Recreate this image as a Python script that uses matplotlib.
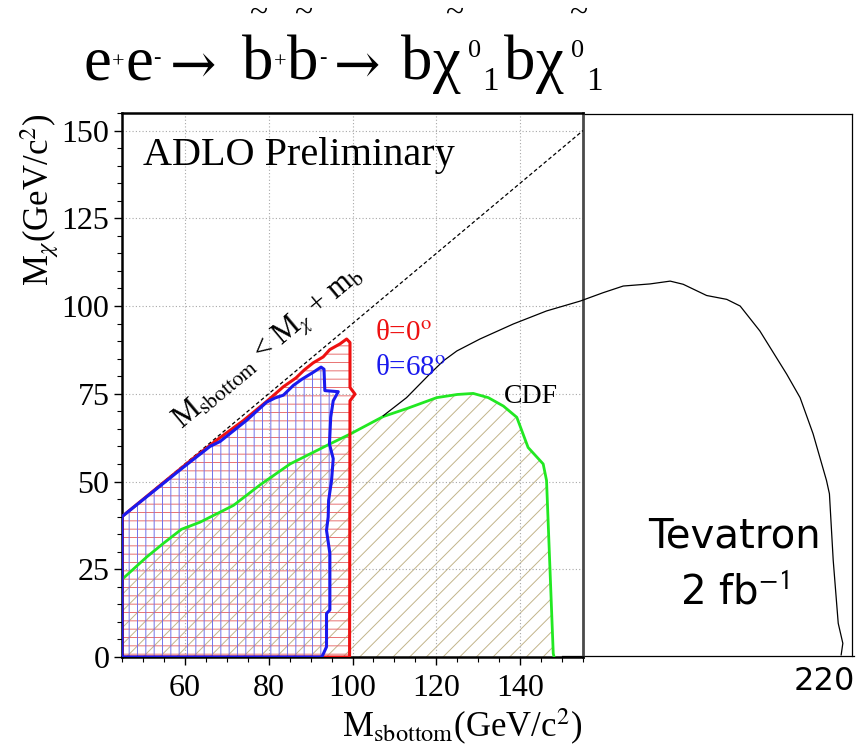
import matplotlib
matplotlib.use("Agg")
import matplotlib.pyplot as plt
from matplotlib.ticker import MultipleLocator

plt.rcParams['font.family'] = ['Liberation Serif', 'DejaVu Serif']
plt.rcParams['mathtext.fontset'] = 'stix'
plt.rcParams['hatch.linewidth'] = 0.7

# ---------------- data ----------------
# diagonal kinematic limit  M_chi = M_sbottom - m_b
diag_x = [45, 155]
diag_y = [40, 150]

# CDF expected exclusion (green)
cdf_x = [45, 50.9, 55, 59.2, 63.6, 71.6, 77.9, 85.1, 94.6, 99.4, 107.3, 113, 120.1,
         125, 128.8, 132.4, 136, 139.2, 141.9, 145.5, 146.3, 147.1, 147.9, 148.1]
cdf_y = [22.1, 28.5, 32.5, 36.4, 38.4, 43.2, 49.0, 55.0, 60.7, 63.5, 68.5, 70.8, 73.9,
         74.8, 75.1, 73.9, 71.5, 68.3, 59.7, 55.0, 50.3, 25.7, 1.0, 0]

# LEP theta = 0 deg (red)
red_x = [45, 45, 55, 62, 67.6, 73.9, 79.5, 83.5, 86.5, 88.5, 90.6, 93, 94.6, 97.0, 98.6,
         99.4, 99.4, 100.6, 99.4, 99.3, 45]
red_y = [0, 40, 49.8, 56.6, 61.8, 67.3, 72.8, 77.0, 79.5, 81.8, 83.8, 85.5, 87.6, 89.2, 90.6,
         89.6, 76.8, 74.9, 73.0, 0, 0]

# LEP theta = 68 deg (blue)
blue_x = [45, 45, 55, 60, 66, 68.4, 74.8, 79.5, 81.5, 83.5, 85.9, 88, 90.6, 92.5, 93.2,
          93.4, 96.6, 95.4, 94.8, 94.5, 95.4, 95.0, 94.3, 94.2, 93.8, 94.6, 94.6, 93.8,
          93.8, 92.7, 45]
blue_y = [0, 40, 49.6, 54.4, 60.0, 61.4, 67.5, 72.6, 73.8, 74.6, 77.4, 79.2, 81.1, 82.6, 82.0,
          75.9, 75.6, 73.0, 68.3, 60.7, 56.5, 50.3, 44.6, 39.9, 36.1, 29.5, 13.4, 12.4,
          2.9, 0, 0]

# Tevatron 2 fb^-1 reach (overlaid, extends beyond frame)
tev_x = [107.35, 112.9, 118.5, 121.7, 124.9, 130.4, 138.4, 146.3, 154.3, 159.8, 164.6,
         171.0, 175.8, 178.9, 184.5, 189.3, 192.5, 197.2, 203.6, 206.8, 209.9, 213.1,
         213.8, 214.7, 215.9, 217.0, 216.6]
tev_y = [68.75, 73.9, 80.7, 84.4, 87.2, 90.6, 94.9, 98.6, 101.4, 103.8, 105.7,
         106.3, 107.1, 106.2, 103.0, 101.9, 100.0, 92.9, 80.6, 73.9, 63.6, 50.3,
         46.5, 27.6, 9.6, 3.9, 0.6]

x_major = [60, 80, 100, 120, 140]
y_major = [0, 25, 50, 75, 100, 125, 150]

W, H = 859, 750
fig = plt.figure(figsize=(W / 100, H / 100), dpi=100)
ax = fig.add_axes([122 / W, 1 - 657 / H, 461 / W, 544 / H])
ax.set_xlim(45, 155)
ax.set_ylim(0, 155)

def fx(x):
    return x / W

def fy(y):
    return 1 - y / H

# hatched regions
ax.fill(cdf_x + [45], cdf_y + [0], facecolor='none', edgecolor='#c2b48a',
        hatch='//', linewidth=0, zorder=1)
ax.fill(red_x, red_y, facecolor='none', edgecolor='#e87272', hatch='--',
        linewidth=0, zorder=2)
ax.fill(blue_x, blue_y, facecolor='none', edgecolor='#7272ea', hatch='||',
        linewidth=0, zorder=3)

# grid
ax.set_xticks(x_major)
ax.set_yticks(y_major)
ax.xaxis.set_minor_locator(MultipleLocator(5))
ax.yaxis.set_minor_locator(MultipleLocator(5))
ax.grid(True, which='major', color='#a8a8a8', linestyle=(0, (1, 2)), linewidth=0.8, zorder=0)

# curves
ax.plot(diag_x, diag_y, color='black', linestyle=(0, (3, 2)), linewidth=0.9, zorder=4)
ax.plot(cdf_x, cdf_y, color='#22e822', linewidth=2.0, zorder=5)
ax.plot(red_x, red_y, color='#ee1111', linewidth=2.2, zorder=6, solid_joinstyle='round')
ax.plot(blue_x, blue_y, color='#1a1aee', linewidth=2.2, zorder=7, solid_joinstyle='round')
ax.plot(tev_x, tev_y, color='black', linewidth=0.9, clip_on=False, zorder=8)

# overlay frame of Tevatron plot
ax.plot([155, 219.2], [154.6, 154.6], color='black', linewidth=0.9, clip_on=False)
ax.plot([219.2, 219.2], [0.2, 154.6], color='black', linewidth=0.9, clip_on=False)
ax.plot([150, 219.6], [0.2, 0.2], color='black', linewidth=0.9, clip_on=False)

# spines and ticks
for s in ['left', 'bottom', 'top']:
    ax.spines[s].set_color('black')
    ax.spines[s].set_linewidth(1.8)
ax.spines['right'].set_color('#4a4a4a')
ax.spines['right'].set_linewidth(2.0)
ax.tick_params(which='major', direction='out', length=6, width=1.0, labelsize=23, pad=3)
ax.tick_params(which='minor', direction='out', length=3.5, width=0.8)
ax.tick_params(axis='x', which='major', pad=6)

# axis labels
fig.text(fx(582), fy(737), r'M$_{\rm sbottom}$(GeV/c$^{2}$)', ha='right', va='baseline',
         fontsize=25)
fig.text(fx(40), fy(113), r'M$_{\chi}$(GeV/c$^{2}$)', ha='center', va='top',
         rotation=90, fontsize=25)

# in-plot texts
fig.text(fx(143), fy(165), 'ADLO Preliminary', ha='left', va='baseline', fontsize=29)
ax.text(59.2, 65.0, r'M$_{\rm sbottom}$ < M$_{\chi}$ + m$_{\rm b}$', rotation=40,
        rotation_mode='anchor', ha='left', va='baseline', fontsize=22)
fig.text(fx(375), fy(340), r'θ=0$^{\rm o}$', color='#ee1111', ha='left', va='baseline',
         fontsize=21)
fig.text(fx(375), fy(375), r'θ=68$^{\rm o}$', color='#1a1aee', ha='left', va='baseline',
         fontsize=21)
fig.text(fx(504), fy(403), 'CDF', ha='left', va='baseline', fontsize=20)

fig.text(fx(734), fy(548), 'Tevatron', ha='center', va='baseline', fontsize=29,
         family='DejaVu Sans')
fig.text(fx(734), fy(603), r'2 fb$^{\mathsf{-1}}$', ha='center', va='baseline', fontsize=29,
         family='DejaVu Sans')
fig.text(fx(855), fy(690), '220', ha='right', va='baseline', fontsize=23,
         family='DejaVu Sans')

# title, piece by piece (left edge in px, baseline in px)
def tl(xl, yb, s, size, fam='Liberation Serif'):
    fig.text(fx(xl), fy(yb), s, ha='left', va='baseline', fontsize=size, family=fam)

def tc(xc, yb, s, size, fam='Liberation Serif'):
    fig.text(fx(xc), fy(yb), s, ha='center', va='baseline', fontsize=size, family=fam)

main = 45
sup = 16
tl(84, 80, 'e', main)
tl(112, 68, '+', sup)
tl(125, 80, 'e', main)
tl(153, 63, '-', sup)
tl(170, 83, '→', 40, 'DejaVu Serif')
tl(242, 80, 'b', main)
tl(274, 68, '+', sup)
tl(287, 80, 'b', main)
tl(319, 63, '-', sup)
tl(334, 83, '→', 40, 'DejaVu Serif')
tl(401, 80, 'b', main)
tl(433, 80, 'χ', main)
tl(468, 57, '0', 19)
tl(482, 90, '1', 24)
tl(504, 80, 'b', main)
tl(536, 80, 'χ', main)
tl(571, 57, '0', 19)
tl(586, 90, '1', 24)
tc(258, 22, '~', 24)
tc(303, 22, '~', 24)
tc(454, 22, '~', 24)
tc(578, 22, '~', 24)

fig.savefig('out.png', dpi=100)
